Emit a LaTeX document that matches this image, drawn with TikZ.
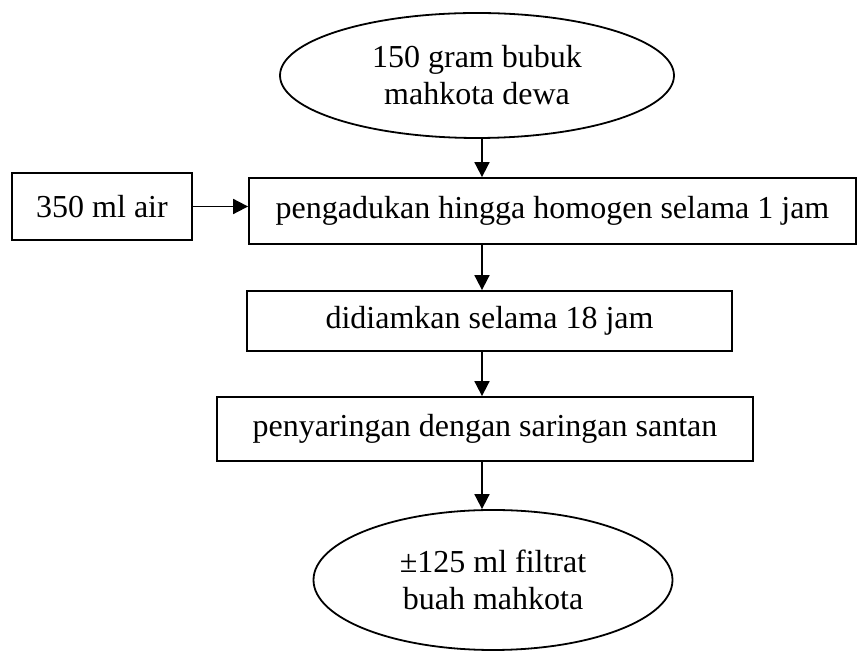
\documentclass[tikz,border=0pt]{standalone}
\usepackage{fontspec}
\setmainfont{Liberation Serif}
\usetikzlibrary{shapes.geometric,arrows.meta}
\begin{document}
\begin{tikzpicture}[x=.5pt,y=-.5pt,line width=.9pt,
        font=\fontsize{16}{18.5}\selectfont,
        kotak/.style={draw,rectangle,inner sep=0pt,align=center},
        bulat/.style={draw,ellipse,inner sep=0pt,align=center},
        panah/.style={-{Triangle[length=7.5pt,width=7.5pt]}}]
    \useasboundingbox (0,0) rectangle (858,651);
    % bahan awal
    \node[bulat,minimum width=197pt,minimum height=62.5pt] (bubuk) at (477,75.5) {150 gram bubuk\\mahkota dewa};
    \node[kotak,minimum width=90pt,minimum height=33.5pt] (air) at (102,206.5) {350 ml air};
    % proses
    \node[kotak,minimum width=303.5pt,minimum height=33pt] (aduk) at (552.5,211) {pengadukan hingga homogen selama 1 jam};
    \node[kotak,minimum width=242.5pt,minimum height=30pt] (diam) at (489.5,321) {didiamkan selama 18 jam};
    \node[kotak,minimum width=268pt,minimum height=32pt] (saring) at (485,429) {penyaringan dengan saringan santan};
    % hasil
    \node[bulat,minimum width=179.5pt,minimum height=70pt] (filtrat) at (493,580) {±125 ml filtrat\\buah mahkota};
    \coordinate (jalur) at (482,0);
    \draw[panah] (bubuk.south -| jalur) -- (aduk.north -| jalur);
    \draw[panah] (air.east |- 0,206.5) -- (aduk.west |- 0,206.5);
    \draw[panah] (aduk.south -| jalur) -- (diam.north -| jalur);
    \draw[panah] (diam.south -| jalur) -- (saring.north -| jalur);
    \draw[panah] (saring.south -| jalur) -- (filtrat.north -| jalur);
\end{tikzpicture}
\end{document}
